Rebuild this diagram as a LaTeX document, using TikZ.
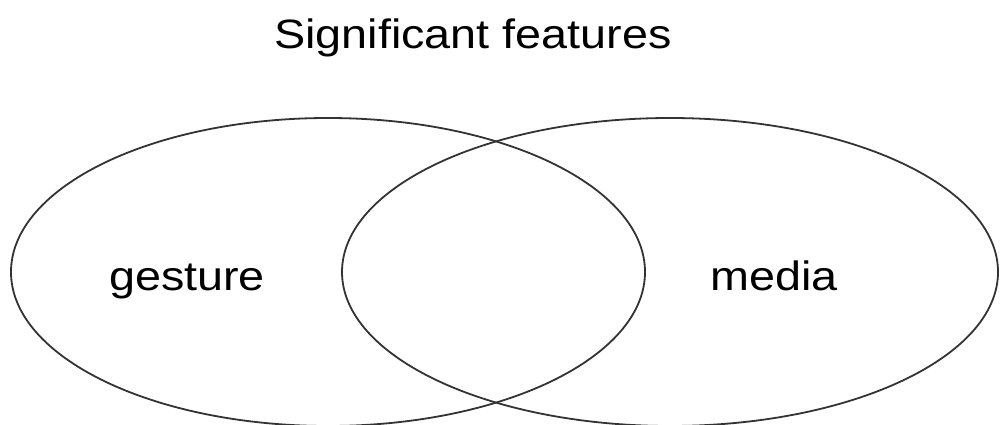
\documentclass[tikz,border=0pt]{standalone}
\usepackage{fontspec}
\setmainfont{Liberation Sans}
\usetikzlibrary{shapes.geometric}
\begin{document}
\begin{tikzpicture}[x=1pt,y=-1pt,
  setshape/.style={draw=black!80, line width=1.8pt, ellipse, inner sep=0pt},
  lbl/.style={font=\fontsize{41}{48}\selectfont, anchor=base, inner sep=0pt, xscale=1.14}]
\useasboundingbox (0,0) rectangle (1000,425);
\node[setshape, minimum width=634pt, minimum height=308pt] (gset) at (328,272) {};
\node[setshape, minimum width=656pt, minimum height=308pt] (mset) at (670,272) {};
\node[lbl] (title) at (473,49) {Significant features};
\node[lbl] (gesture) at (187,290) {gesture};
\node[lbl] (media) at (774,290) {media};
\end{tikzpicture}
\end{document}
